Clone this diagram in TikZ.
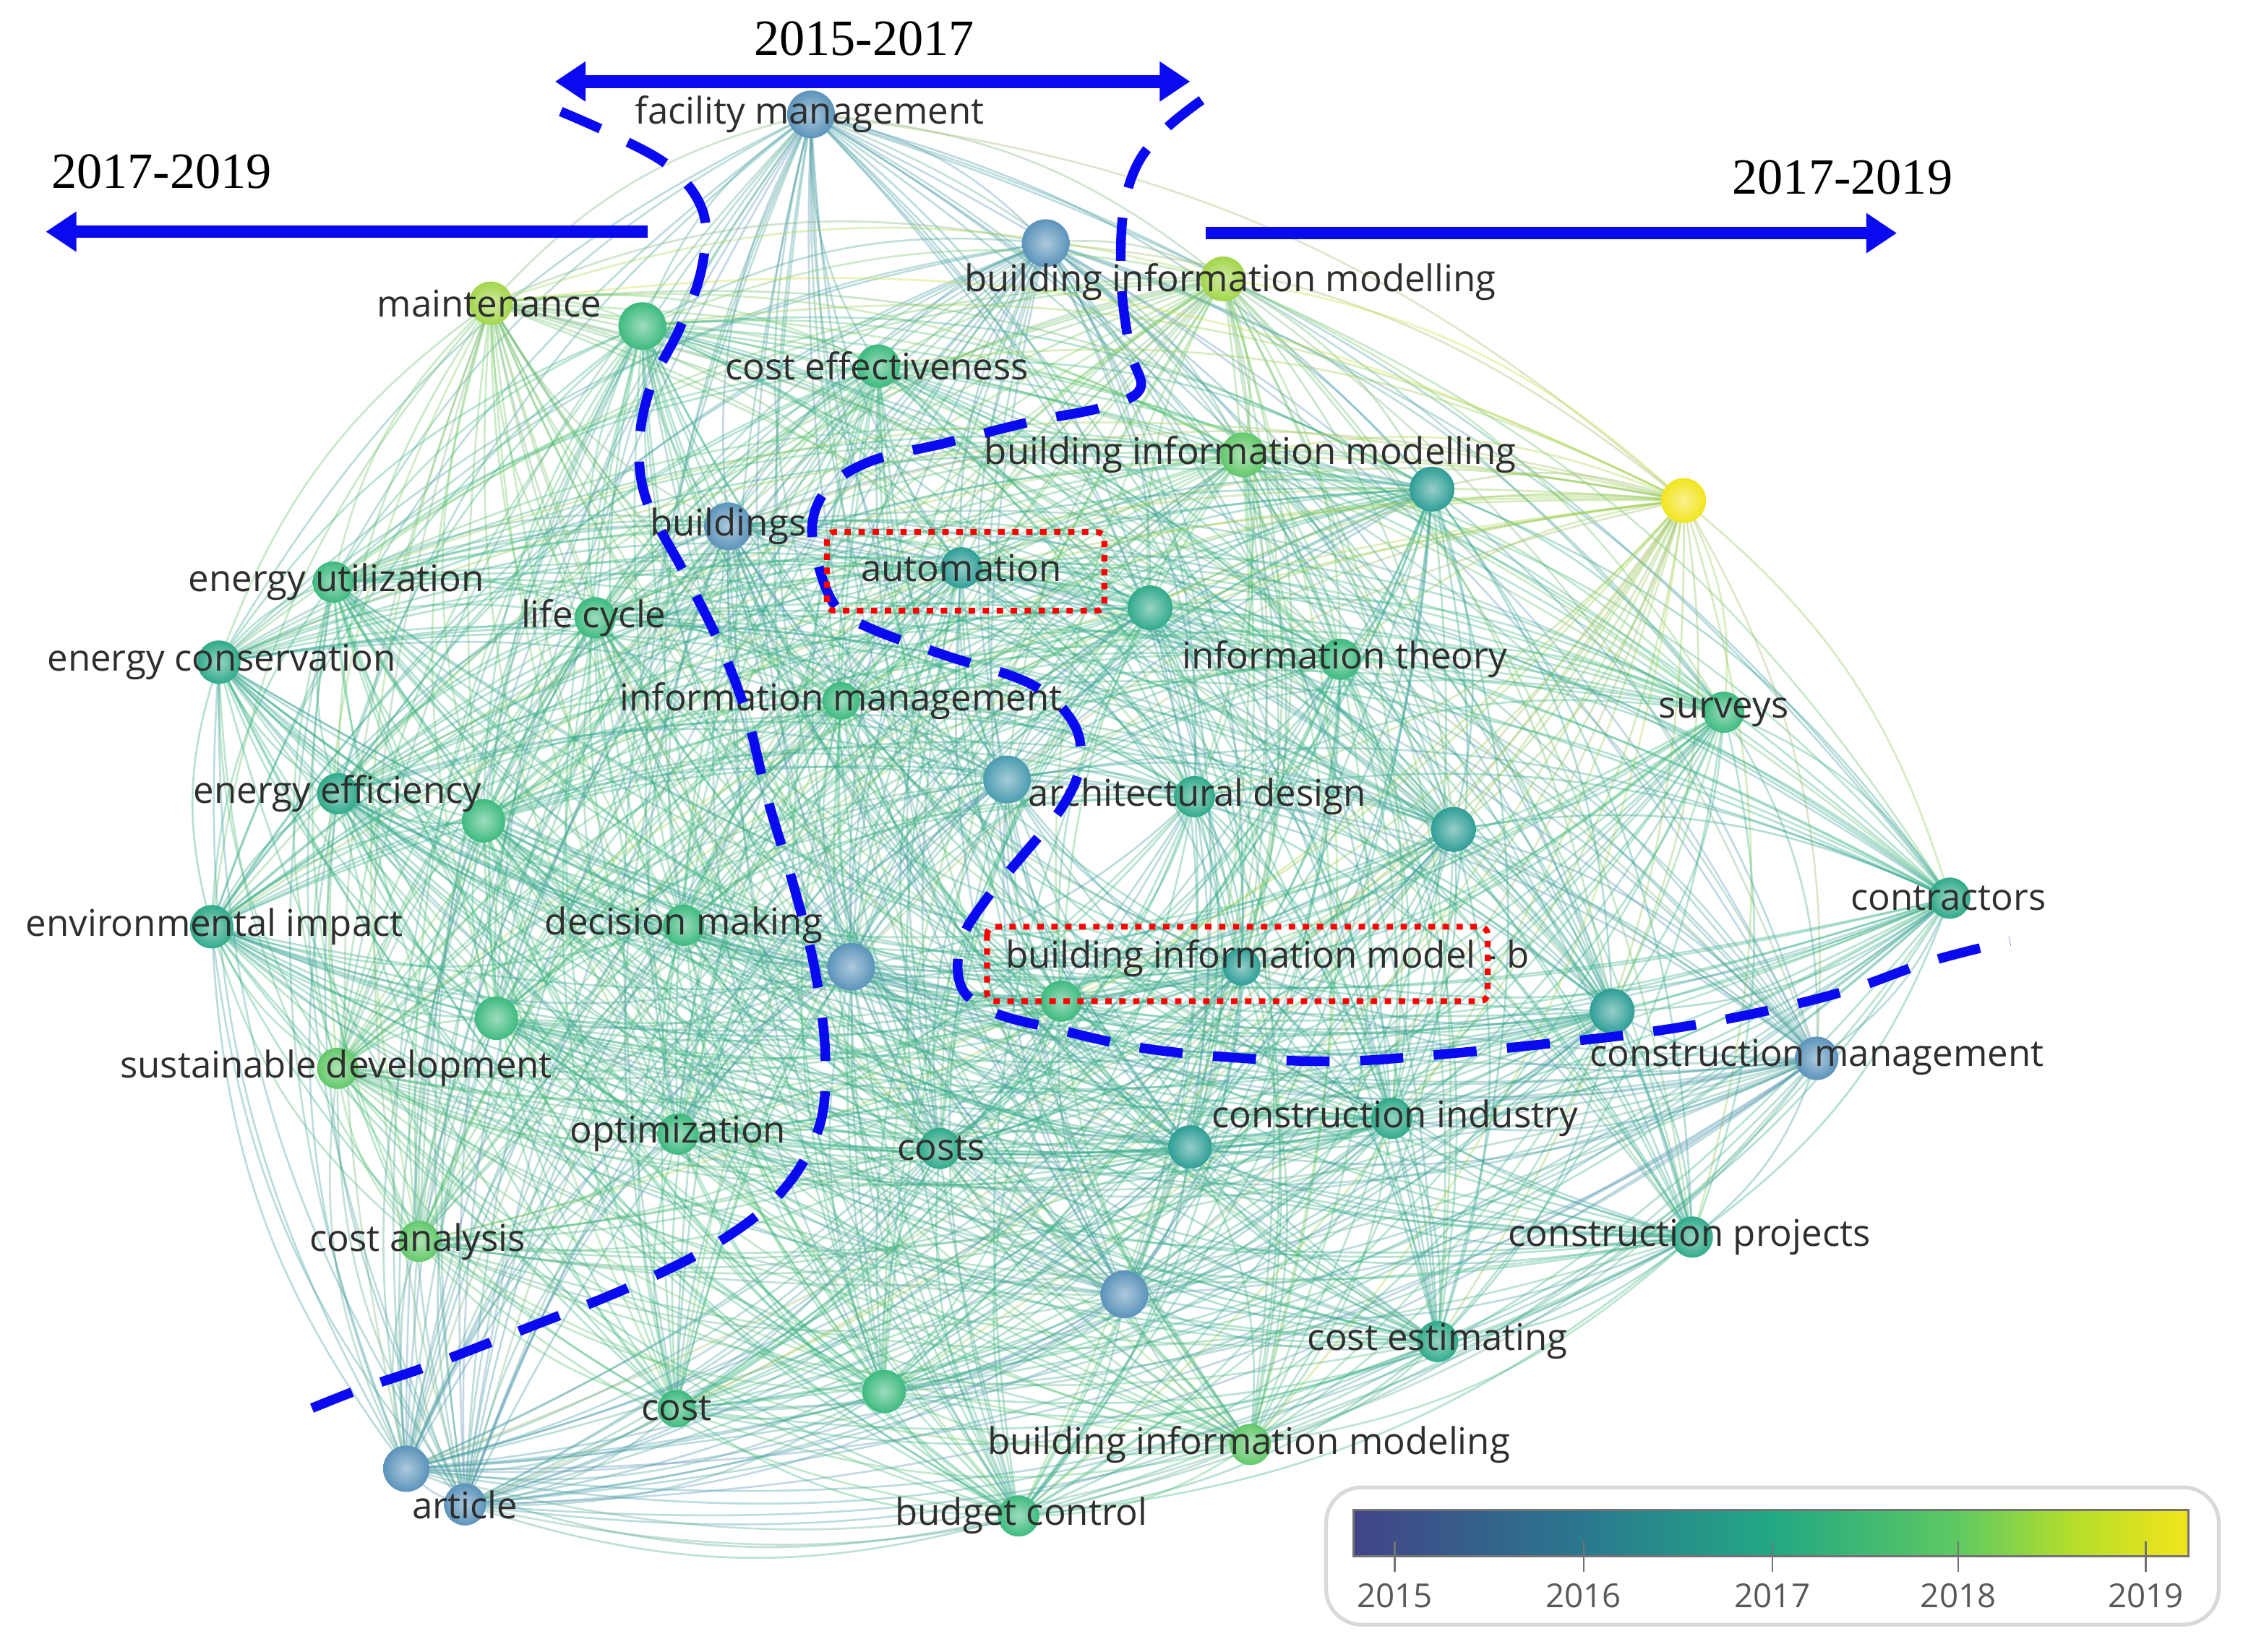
\documentclass[tikz,border=0pt]{standalone}
\usepackage{fontspec}
\setmainfont{Open Sans}
\newfontfamily\titlefont{Liberation Serif}
\usetikzlibrary{arrows.meta}
\pgfdeclarelayer{bg}
\pgfsetlayers{bg,main}
\definecolor{cB}{HTML}{5B93BA}
\definecolor{cBT}{HTML}{4A9BB0}
\definecolor{cT}{HTML}{2E9E96}
\definecolor{cTG}{HTML}{30AA8A}
\definecolor{cG}{HTML}{3DBA7E}
\definecolor{cLG}{HTML}{62C86A}
\definecolor{cYG}{HTML}{A2D64A}
\definecolor{cY}{HTML}{F2E51D}
\definecolor{arrowblue}{HTML}{0A0AF0}
\definecolor{lbltext}{HTML}{2E2E2E}
\definecolor{v0}{HTML}{414487}
\definecolor{v1}{HTML}{2A788E}
\definecolor{v2}{HTML}{22A884}
\definecolor{v3}{HTML}{5EC962}
\definecolor{v4}{HTML}{B5DE2B}
\definecolor{v5}{HTML}{F2E51A}
\def\nodelist{1/cB/567/80/0.66, 2/cB/731/170/0.66, 3/cYG/855/195/0.62,
  4/cYG/343/212/0.6, 5/cG/449/228/0.66, 6/cG/614/256/0.6, 7/cLG/869/318/0.62,
  8/cT/1001/342/0.62, 9/cY/1177/350/0.62, 10/cB/509/368/0.66, 11/cT/672/397/0.57,
  12/cTG/804/425/0.62, 13/cG/233/407/0.57, 14/cG/416/432/0.57, 15/cTG/153/463/0.6,
  16/cG/937/461/0.57, 17/cG/588/490/0.52, 18/cG/1205/498/0.57, 19/cBT/704/545/0.66,
  20/cTG/835/557/0.57, 21/cTG/236/555/0.57, 22/cG/338/574/0.6, 23/cT/1016/580/0.62,
  24/cTG/1363/628/0.57, 25/cTG/148/648/0.6, 26/cG/478/647/0.57, 27/cB/595/676/0.66,
  28/cG/742/700/0.57, 29/cT/868/676/0.52, 30/cT/1127/707/0.62, 31/cB/1270/740/0.6,
  32/cLG/236/747/0.57, 33/cG/347/712/0.6, 34/cTG/973/782/0.57, 35/cT/832/802/0.6,
  36/cG/474/793/0.57, 37/cTG/657/803/0.57, 38/cLG/293/868/0.57, 39/cTG/1183/865/0.57,
  40/cB/786/905/0.66, 41/cTG/1005/938/0.57, 42/cG/473/985/0.52, 43/cG/618/973/0.6,
  44/cLG/874/1010/0.57, 45/cB/284/1027/0.64, 46/cB/325/1052/0.58, 47/cG/712/1060/0.57}
\begin{document}
\begin{tikzpicture}[x=0.01979cm,y=-0.01979cm,
  ballnode/.style={circle, inner sep=0pt, inner color=#1!50!white, outer color=#1},
  linkline/.style={line width=0.75pt, draw opacity=0.36},
  lbl/.style={text=lbltext, inner sep=1pt, font=\fontsize{14.5}{17}\selectfont},
  period/.style={text=black, font=\titlefont\fontsize{20}{24}\selectfont},
  bluearrow/.style={draw=arrowblue, line width=5pt, -{Triangle[width=15pt,length=12pt]}},
  bluedash/.style={draw=arrowblue, line width=3.8pt, dash pattern=on 17pt off 12pt},
  redbox/.style={draw=red, line width=2.3pt, dash pattern=on 2.5pt off 3pt, rounded corners=3pt},
  yearlbl/.style={text=black!65, font=\fontsize{13}{15}\selectfont}]
\useasboundingbox (0,0) rectangle (1568,1155);

% nodes (circles)
\foreach \i/\c/\x/\y/\s in \nodelist {
  \node[ballnode=\c, minimum size=\s cm] (n\i) at (\x,\y) {};
}

% links
\begin{pgfonlayer}{bg}
\fill[white] (0,0) rectangle (1568,1155);
\foreach \i/\ci/\xa/\ya/\sa in \nodelist {
  \foreach \j/\cj/\xb/\yb/\sb in \nodelist {
    \ifnum\j>\i
      \pgfmathsetmacro\cr{((\yb-\ya)/20)*((784-\xa)/20)-((\xb-\xa)/20)*((580-\ya)/20)}
      \pgfmathsetmacro\bv{\cr>0 ? -17 : 17}
      \draw[linkline, draw=\ci!50!\cj] (n\i.center) to[bend left=\bv] (n\j.center);
    \fi
  }
}
\end{pgfonlayer}

% labels
\node[lbl] (l1) at (566,80) {facility management};
\node[lbl] (l3) at (860,197) {building information modelling};
\node[lbl] (l4) at (342,212) {maintenance};
\node[lbl] (l6) at (613,256) {cost effectiveness};
\node[lbl] (l7) at (874,318) {building information modelling};
\node[lbl] (l10) at (509,368) {buildings};
\node[lbl] (l11) at (672,397) {automation};
\node[lbl] (l13) at (235,407) {energy utilization};
\node[lbl] (l14) at (415,432) {life cycle};
\node[lbl] (l15) at (155,463) {energy conservation};
\node[lbl] (l16) at (940,461) {information theory};
\node[lbl] (l17) at (588,490) {information management};
\node[lbl] (l18) at (1205,498) {surveys};
\node[lbl] (l20) at (837,557) {architectural design};
\node[lbl] (l21) at (236,555) {energy efficiency};
\node[lbl] (l24) at (1362,628) {contractors};
\node[lbl] (l25) at (150,648) {environmental impact};
\node[lbl] (l26) at (478,647) {decision making};
\node[lbl] (l29) at (886,670) {building information model - b};
\node[lbl] (l31) at (1270,739) {construction management};
\node[lbl] (l32) at (235,747) {sustainable development};
\node[lbl] (l34) at (975,782) {construction industry};
\node[lbl] (l36) at (474,793) {optimization};
\node[lbl] (l37) at (658,803) {costs};
\node[lbl] (l38) at (292,868) {cost analysis};
\node[lbl] (l39) at (1181,865) {construction projects};
\node[lbl] (l41) at (1005,938) {cost estimating};
\node[lbl] (l42) at (473,985) {cost};
\node[lbl] (l44) at (873,1010) {building information modeling};
\node[lbl] (l46) at (325,1052) {article};
\node[lbl] (l47) at (714,1060) {budget control};

% dashed period boundaries
\draw[bluedash] plot[smooth, tension=0.6] coordinates {(392,78) (430,95) (470,118) (492,150) (490,190) (475,230) (455,270) (447,310) (452,350) (478,400) (503,450) (522,500) (537,560) (555,620) (570,680) (577,740) (572,790) (545,835) (500,870) (440,900) (370,928) (300,955) (250,972) (205,990)};
\draw[bluedash] plot[smooth, tension=0.6] coordinates {(840,70) (815,90) (795,115) (785,150) (784,200) (790,245) (797,272) (770,285) (720,295) (660,310) (610,322) (580,340) (568,365) (572,395) (585,425) (610,440) (660,458) (720,478) (750,505) (755,535) (742,565) (715,598) (690,628) (672,658) (672,690) (695,708) (740,720) (800,733) (870,740) (940,742) (1010,737) (1080,730) (1150,722) (1220,710) (1290,693) (1350,672) (1405,658)};

% red highlight boxes
\draw[redbox] (578,372) rectangle (772,427);
\draw[redbox] (690,648) rectangle (1040,700);

% period arrows
\coordinate (topL) at (388,57);
\coordinate (topR) at (832,57);
\draw[bluearrow, {Triangle[width=15pt,length=12pt]}-{Triangle[width=15pt,length=12pt]}] (topL) -- (topR);
\coordinate (leftS) at (453,162);
\coordinate (leftE) at (32,162);
\draw[bluearrow] (leftS) -- (leftE);
\coordinate (rightS) at (843,163);
\coordinate (rightE) at (1326,163);
\draw[bluearrow] (rightS) -- (rightE);
\node[period] (t1) at (604,27) {2015-2017};
\node[period] (t2) at (113,120) {2017-2019};
\node[period] (t3) at (1288,124) {2017-2019};

% legend
\draw[draw=black!15, line width=1.5pt, fill=white, rounded corners=14pt] (927,1040) rectangle (1551,1136);
\shade[left color=v0, right color=v1] (946,1056) rectangle (1107,1088);
\shade[left color=v1, right color=v2] (1106.5,1056) rectangle (1239,1088);
\shade[left color=v2, right color=v3] (1238.5,1056) rectangle (1369,1088);
\shade[left color=v3, right color=v4] (1368.5,1056) rectangle (1450,1088);
\shade[left color=v4, right color=v5] (1449.5,1056) rectangle (1530,1088);
\draw[black!55, line width=0.8pt] (946,1056) rectangle (1530,1088);
\foreach \x/\yr in {975/2015, 1107/2016, 1239/2017, 1369/2018, 1500/2019} {
  \draw[black!55, line width=0.7pt] (\x,1078) -- (\x,1099);
  \node[yearlbl] (y\yr) at (\x,1116) {\yr};
}
\end{tikzpicture}
\end{document}
